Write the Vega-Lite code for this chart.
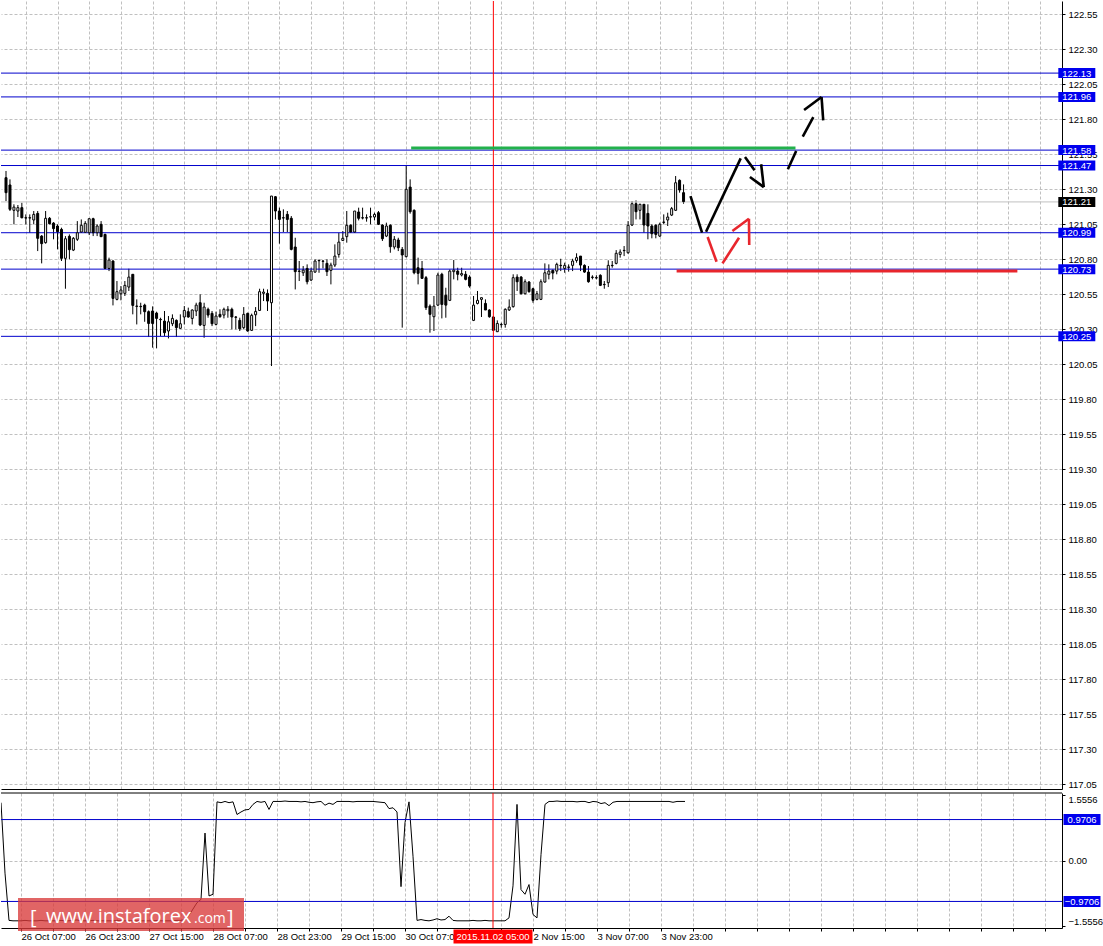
{
  "$schema": "https://vega.github.io/schema/vega-lite/v6.json",
  "padding": 0,
  "background": "white",
  "spacing": 2,
  "config": {
    "view": {"stroke": null},
    "axis": {"labelFont": "Liberation Sans", "labelFontSize": 9.5, "labelColor": "#000000", "domainColor": "#000000", "domainWidth": 1, "tickColor": "#000000", "gridColor": "#c0c0c0", "gridDash": [3, 2], "gridWidth": 1, "labelOverlap": false, "labelFlush": false, "title": null},
    "text": {"font": "Liberation Sans"}
  },
  "datasets": {
    "candles": [
      {"i":0,"o":121.383,"h":121.431,"l":121.216,"c":121.276},
      {"i":1,"o":121.331,"h":121.371,"l":121.145,"c":121.157},
      {"i":2,"o":121.150,"h":121.193,"l":121.050,"c":121.173},
      {"i":3,"o":121.145,"h":121.188,"l":121.102,"c":121.169},
      {"i":4,"o":121.169,"h":121.204,"l":121.093,"c":121.097},
      {"i":5,"o":121.097,"h":121.121,"l":121.050,"c":121.095},
      {"i":6,"o":121.097,"h":121.121,"l":120.990,"c":121.095},
      {"i":7,"o":121.081,"h":121.145,"l":121.050,"c":121.121},
      {"i":8,"o":121.128,"h":121.145,"l":120.859,"c":120.950},
      {"i":9,"o":120.966,"h":120.973,"l":120.771,"c":120.912},
      {"i":10,"o":120.919,"h":121.145,"l":120.912,"c":121.093},
      {"i":11,"o":121.093,"h":121.102,"l":121.050,"c":121.054},
      {"i":12,"o":121.059,"h":121.066,"l":120.943,"c":121.019},
      {"i":13,"o":121.038,"h":121.050,"l":120.871,"c":120.997},
      {"i":14,"o":121.014,"h":121.026,"l":120.788,"c":120.807},
      {"i":15,"o":120.807,"h":120.966,"l":120.590,"c":120.947},
      {"i":16,"o":120.964,"h":120.978,"l":120.800,"c":120.869},
      {"i":17,"o":120.866,"h":120.959,"l":120.859,"c":120.950},
      {"i":18,"o":120.943,"h":121.073,"l":120.931,"c":120.990},
      {"i":19,"o":120.995,"h":121.085,"l":120.990,"c":121.043},
      {"i":20,"o":120.993,"h":121.073,"l":120.990,"c":121.057},
      {"i":21,"o":120.990,"h":121.093,"l":120.973,"c":121.090},
      {"i":22,"o":121.090,"h":121.097,"l":120.966,"c":120.990},
      {"i":23,"o":120.990,"h":121.050,"l":120.966,"c":121.038},
      {"i":24,"o":121.050,"h":121.073,"l":120.959,"c":120.962},
      {"i":25,"o":120.978,"h":120.983,"l":120.733,"c":120.735},
      {"i":26,"o":120.735,"h":120.812,"l":120.716,"c":120.795},
      {"i":27,"o":120.788,"h":120.793,"l":120.471,"c":120.521},
      {"i":28,"o":120.514,"h":120.645,"l":120.507,"c":120.569},
      {"i":29,"o":120.554,"h":120.609,"l":120.507,"c":120.581},
      {"i":30,"o":120.557,"h":120.645,"l":120.538,"c":120.614},
      {"i":31,"o":120.602,"h":120.733,"l":120.574,"c":120.673},
      {"i":32,"o":120.693,"h":120.693,"l":120.407,"c":120.471},
      {"i":33,"o":120.466,"h":120.514,"l":120.335,"c":120.464},
      {"i":34,"o":120.464,"h":120.490,"l":120.407,"c":120.462},
      {"i":35,"o":120.473,"h":120.483,"l":120.354,"c":120.426},
      {"i":36,"o":120.426,"h":120.435,"l":120.245,"c":120.342},
      {"i":37,"o":120.431,"h":120.464,"l":120.169,"c":120.342},
      {"i":38,"o":120.416,"h":120.426,"l":120.164,"c":120.378},
      {"i":39,"o":120.371,"h":120.383,"l":120.252,"c":120.369},
      {"i":40,"o":120.359,"h":120.431,"l":120.252,"c":120.276},
      {"i":41,"o":120.288,"h":120.395,"l":120.235,"c":120.354},
      {"i":42,"o":120.340,"h":120.407,"l":120.323,"c":120.378},
      {"i":43,"o":120.364,"h":120.371,"l":120.245,"c":120.312},
      {"i":44,"o":120.307,"h":120.407,"l":120.305,"c":120.340},
      {"i":45,"o":120.388,"h":120.466,"l":120.335,"c":120.435},
      {"i":46,"o":120.426,"h":120.455,"l":120.383,"c":120.388},
      {"i":47,"o":120.378,"h":120.443,"l":120.335,"c":120.438},
      {"i":48,"o":120.431,"h":120.490,"l":120.395,"c":120.473},
      {"i":49,"o":120.490,"h":120.550,"l":120.323,"c":120.331},
      {"i":50,"o":120.328,"h":120.490,"l":120.240,"c":120.459},
      {"i":51,"o":120.443,"h":120.455,"l":120.383,"c":120.402},
      {"i":52,"o":120.414,"h":120.431,"l":120.323,"c":120.340},
      {"i":53,"o":120.335,"h":120.426,"l":120.328,"c":120.395},
      {"i":54,"o":120.407,"h":120.443,"l":120.383,"c":120.390},
      {"i":55,"o":120.402,"h":120.455,"l":120.378,"c":120.443},
      {"i":56,"o":120.433,"h":120.466,"l":120.383,"c":120.443},
      {"i":57,"o":120.443,"h":120.455,"l":120.300,"c":120.388},
      {"i":58,"o":120.388,"h":120.395,"l":120.300,"c":120.386},
      {"i":59,"o":120.364,"h":120.383,"l":120.288,"c":120.304},
      {"i":60,"o":120.312,"h":120.459,"l":120.300,"c":120.407},
      {"i":61,"o":120.414,"h":120.419,"l":120.283,"c":120.288},
      {"i":62,"o":120.293,"h":120.412,"l":120.288,"c":120.400},
      {"i":63,"o":120.404,"h":120.459,"l":120.323,"c":120.428},
      {"i":64,"o":120.435,"h":120.590,"l":120.431,"c":120.569},
      {"i":65,"o":120.557,"h":120.590,"l":120.502,"c":120.566},
      {"i":66,"o":120.557,"h":120.585,"l":120.431,"c":120.502},
      {"i":67,"o":120.490,"h":121.252,"l":120.038,"c":121.252},
      {"i":68,"o":121.247,"h":121.252,"l":121.085,"c":121.145},
      {"i":69,"o":121.145,"h":121.169,"l":120.912,"c":121.085},
      {"i":70,"o":121.097,"h":121.157,"l":120.995,"c":121.095},
      {"i":71,"o":121.121,"h":121.145,"l":120.995,"c":121.085},
      {"i":72,"o":121.093,"h":121.109,"l":120.864,"c":120.871},
      {"i":73,"o":120.888,"h":120.954,"l":120.585,"c":120.712},
      {"i":74,"o":120.716,"h":120.788,"l":120.645,"c":120.714},
      {"i":75,"o":120.704,"h":120.752,"l":120.681,"c":120.723},
      {"i":76,"o":120.735,"h":120.764,"l":120.621,"c":120.640},
      {"i":77,"o":120.652,"h":120.740,"l":120.645,"c":120.716},
      {"i":78,"o":120.709,"h":120.800,"l":120.704,"c":120.788},
      {"i":79,"o":120.793,"h":120.797,"l":120.704,"c":120.790},
      {"i":80,"o":120.788,"h":120.793,"l":120.735,"c":120.786},
      {"i":81,"o":120.771,"h":120.800,"l":120.681,"c":120.712},
      {"i":82,"o":120.721,"h":120.776,"l":120.621,"c":120.759},
      {"i":83,"o":120.759,"h":120.907,"l":120.745,"c":120.823},
      {"i":84,"o":120.835,"h":120.990,"l":120.812,"c":120.923},
      {"i":85,"o":120.935,"h":121.002,"l":120.931,"c":120.950},
      {"i":86,"o":120.962,"h":121.145,"l":120.919,"c":121.043},
      {"i":87,"o":121.043,"h":121.050,"l":120.990,"c":120.995},
      {"i":88,"o":120.995,"h":121.145,"l":120.990,"c":121.145},
      {"i":89,"o":121.138,"h":121.169,"l":121.078,"c":121.093},
      {"i":90,"o":121.097,"h":121.169,"l":121.085,"c":121.095},
      {"i":91,"o":121.097,"h":121.121,"l":121.069,"c":121.095},
      {"i":92,"o":121.104,"h":121.169,"l":121.050,"c":121.102},
      {"i":93,"o":121.102,"h":121.133,"l":121.078,"c":121.121},
      {"i":94,"o":121.133,"h":121.145,"l":121.045,"c":121.050},
      {"i":95,"o":121.045,"h":121.050,"l":120.931,"c":120.947},
      {"i":96,"o":120.966,"h":121.062,"l":120.959,"c":121.038},
      {"i":97,"o":121.043,"h":121.050,"l":120.847,"c":120.890},
      {"i":98,"o":120.888,"h":120.966,"l":120.871,"c":120.943},
      {"i":99,"o":120.938,"h":120.954,"l":120.859,"c":120.883},
      {"i":100,"o":120.871,"h":120.888,"l":120.312,"c":120.831},
      {"i":101,"o":120.819,"h":121.473,"l":120.814,"c":121.300},
      {"i":102,"o":121.316,"h":121.371,"l":121.126,"c":121.140},
      {"i":103,"o":121.150,"h":121.157,"l":120.693,"c":120.704},
      {"i":104,"o":120.740,"h":120.812,"l":120.621,"c":120.700},
      {"i":105,"o":120.735,"h":120.788,"l":120.662,"c":120.664},
      {"i":106,"o":120.669,"h":120.681,"l":120.438,"c":120.455},
      {"i":107,"o":120.466,"h":120.478,"l":120.276,"c":120.407},
      {"i":108,"o":120.390,"h":120.538,"l":120.288,"c":120.466},
      {"i":109,"o":120.473,"h":120.704,"l":120.466,"c":120.688},
      {"i":110,"o":120.693,"h":120.704,"l":120.378,"c":120.478},
      {"i":111,"o":120.543,"h":120.597,"l":120.383,"c":120.473},
      {"i":112,"o":120.507,"h":120.728,"l":120.502,"c":120.716},
      {"i":113,"o":120.712,"h":120.795,"l":120.657,"c":120.723},
      {"i":114,"o":120.716,"h":120.740,"l":120.650,"c":120.693},
      {"i":115,"o":120.688,"h":120.740,"l":120.678,"c":120.698},
      {"i":116,"o":120.693,"h":120.716,"l":120.650,"c":120.657},
      {"i":117,"o":120.673,"h":120.686,"l":120.597,"c":120.609},
      {"i":118,"o":120.364,"h":120.538,"l":120.359,"c":120.473},
      {"i":119,"o":120.485,"h":120.574,"l":120.478,"c":120.507},
      {"i":120,"o":120.514,"h":120.526,"l":120.388,"c":120.526},
      {"i":121,"o":120.485,"h":120.514,"l":120.438,"c":120.438},
      {"i":122,"o":120.438,"h":120.443,"l":120.383,"c":120.390},
      {"i":123,"o":120.388,"h":120.395,"l":120.288,"c":120.293},
      {"i":124,"o":120.283,"h":120.364,"l":120.281,"c":120.342},
      {"i":125,"o":120.335,"h":120.347,"l":120.312,"c":120.333},
      {"i":126,"o":120.335,"h":120.450,"l":120.312,"c":120.443},
      {"i":127,"o":120.438,"h":120.514,"l":120.431,"c":120.459},
      {"i":128,"o":120.462,"h":120.693,"l":120.455,"c":120.669},
      {"i":129,"o":120.673,"h":120.693,"l":120.574,"c":120.640},
      {"i":130,"o":120.673,"h":120.681,"l":120.550,"c":120.554},
      {"i":131,"o":120.554,"h":120.657,"l":120.550,"c":120.640},
      {"i":132,"o":120.638,"h":120.645,"l":120.562,"c":120.569},
      {"i":133,"o":120.590,"h":120.597,"l":120.490,"c":120.507},
      {"i":134,"o":120.514,"h":120.574,"l":120.507,"c":120.554},
      {"i":135,"o":120.514,"h":120.657,"l":120.509,"c":120.640},
      {"i":136,"o":120.638,"h":120.771,"l":120.633,"c":120.704},
      {"i":137,"o":120.693,"h":120.764,"l":120.657,"c":120.716},
      {"i":138,"o":120.721,"h":120.728,"l":120.657,"c":120.702},
      {"i":139,"o":120.716,"h":120.776,"l":120.693,"c":120.764},
      {"i":140,"o":120.757,"h":120.804,"l":120.716,"c":120.755},
      {"i":141,"o":120.735,"h":120.776,"l":120.704,"c":120.757},
      {"i":142,"o":120.745,"h":120.764,"l":120.712,"c":120.743},
      {"i":143,"o":120.757,"h":120.804,"l":120.716,"c":120.788},
      {"i":144,"o":120.792,"h":120.843,"l":120.776,"c":120.812},
      {"i":145,"o":120.823,"h":120.823,"l":120.716,"c":120.759},
      {"i":146,"o":120.757,"h":120.764,"l":120.704,"c":120.709},
      {"i":147,"o":120.709,"h":120.752,"l":120.633,"c":120.640},
      {"i":148,"o":120.673,"h":120.686,"l":120.657,"c":120.671},
      {"i":149,"o":120.669,"h":120.686,"l":120.657,"c":120.667},
      {"i":150,"o":120.686,"h":120.693,"l":120.609,"c":120.614},
      {"i":151,"o":120.621,"h":120.645,"l":120.590,"c":120.619},
      {"i":152,"o":120.633,"h":120.793,"l":120.602,"c":120.757},
      {"i":153,"o":120.757,"h":120.788,"l":120.740,"c":120.755},
      {"i":154,"o":120.771,"h":120.866,"l":120.764,"c":120.843},
      {"i":155,"o":120.835,"h":120.871,"l":120.812,"c":120.852},
      {"i":156,"o":120.864,"h":120.895,"l":120.823,"c":120.862},
      {"i":157,"o":120.847,"h":121.073,"l":120.840,"c":121.043},
      {"i":158,"o":121.045,"h":121.216,"l":121.038,"c":121.197},
      {"i":159,"o":121.197,"h":121.221,"l":121.085,"c":121.140},
      {"i":160,"o":121.150,"h":121.197,"l":121.085,"c":121.193},
      {"i":161,"o":121.193,"h":121.193,"l":120.990,"c":121.045},
      {"i":162,"o":121.128,"h":121.193,"l":120.943,"c":121.038},
      {"i":163,"o":121.038,"h":121.050,"l":120.950,"c":120.983},
      {"i":164,"o":121.043,"h":121.050,"l":120.950,"c":120.978},
      {"i":165,"o":120.966,"h":121.062,"l":120.959,"c":121.050},
      {"i":166,"o":121.066,"h":121.121,"l":121.050,"c":121.064},
      {"i":167,"o":121.081,"h":121.133,"l":121.038,"c":121.102},
      {"i":168,"o":121.116,"h":121.174,"l":121.109,"c":121.162},
      {"i":169,"o":121.150,"h":121.395,"l":121.145,"c":121.347},
      {"i":170,"o":121.364,"h":121.371,"l":121.276,"c":121.295},
      {"i":171,"o":121.276,"h":121.335,"l":121.197,"c":121.212}
    ],
    "osc": [
      {"i":0,"v":1.37},{"i":1,"v":-0.30},{"i":2,"v":-1.42},{"i":3,"v":-1.43},{"i":4,"v":-1.43},{"i":5,"v":-1.43},{"i":6,"v":-1.42},{"i":7,"v":-1.43},{"i":8,"v":-1.43},{"i":9,"v":-1.43},
      {"i":10,"v":-1.42},{"i":11,"v":-1.43},{"i":12,"v":-1.43},{"i":13,"v":-1.43},{"i":14,"v":-1.43},{"i":15,"v":-1.42},{"i":16,"v":-1.43},{"i":17,"v":-1.43},{"i":18,"v":-1.42},{"i":19,"v":-1.41},
      {"i":20,"v":-1.43},{"i":21,"v":-1.43},{"i":22,"v":-1.43},{"i":23,"v":-1.42},{"i":24,"v":-1.43},{"i":25,"v":-1.43},{"i":26,"v":-1.43},{"i":27,"v":-1.43},{"i":28,"v":-1.43},{"i":29,"v":-1.42},
      {"i":30,"v":-1.43},{"i":31,"v":-1.43},{"i":32,"v":-1.43},{"i":33,"v":-1.43},{"i":34,"v":-1.43},{"i":35,"v":-1.43},{"i":36,"v":-1.43},{"i":37,"v":-1.43},{"i":38,"v":-1.43},{"i":39,"v":-1.42},
      {"i":40,"v":-1.43},{"i":41,"v":-1.43},{"i":42,"v":-1.43},{"i":43,"v":-1.43},{"i":44,"v":-1.42},{"i":45,"v":-1.42},{"i":46,"v":-1.40},{"i":47,"v":-1.30},{"i":48,"v":-1.15},{"i":49,"v":-1.00},
      {"i":50,"v":-0.92},{"i":51,"v":0.65},{"i":52,"v":-0.84},{"i":53,"v":-0.80},{"i":54,"v":1.39},{"i":55,"v":1.37},{"i":56,"v":1.40},{"i":57,"v":1.37},{"i":58,"v":1.39},{"i":59,"v":1.09},
      {"i":60,"v":1.15},{"i":61,"v":1.20},{"i":62,"v":1.21},{"i":63,"v":1.33},{"i":64,"v":1.40},{"i":65,"v":1.38},{"i":66,"v":1.40},{"i":67,"v":1.21},{"i":68,"v":1.40},{"i":69,"v":1.40},
      {"i":70,"v":1.40},{"i":71,"v":1.41},{"i":72,"v":1.40},{"i":73,"v":1.40},{"i":74,"v":1.40},{"i":75,"v":1.39},{"i":76,"v":1.40},{"i":77,"v":1.38},{"i":78,"v":1.37},{"i":79,"v":1.39},
      {"i":80,"v":1.40},{"i":81,"v":1.31},{"i":82,"v":1.36},{"i":83,"v":1.33},{"i":84,"v":1.40},{"i":85,"v":1.40},{"i":86,"v":1.40},{"i":87,"v":1.40},{"i":88,"v":1.39},{"i":89,"v":1.40},
      {"i":90,"v":1.40},{"i":91,"v":1.40},{"i":92,"v":1.40},{"i":93,"v":1.40},{"i":94,"v":1.39},{"i":95,"v":1.38},{"i":96,"v":1.37},{"i":97,"v":1.23},{"i":98,"v":1.25},{"i":99,"v":1.15},
      {"i":100,"v":-0.62},{"i":101,"v":0.90},{"i":102,"v":1.39},{"i":103,"v":0.10},{"i":104,"v":-1.42},{"i":105,"v":-1.40},{"i":106,"v":-1.42},{"i":107,"v":-1.43},{"i":108,"v":-1.41},{"i":109,"v":-1.38},
      {"i":110,"v":-1.41},{"i":111,"v":-1.40},{"i":112,"v":-1.32},{"i":113,"v":-1.42},{"i":114,"v":-1.43},{"i":115,"v":-1.43},{"i":116,"v":-1.43},{"i":117,"v":-1.43},{"i":118,"v":-1.42},{"i":119,"v":-1.43},
      {"i":120,"v":-1.43},{"i":121,"v":-1.42},{"i":122,"v":-1.43},{"i":123,"v":-1.43},{"i":124,"v":-1.43},{"i":125,"v":-1.43},{"i":126,"v":-1.43},{"i":127,"v":-1.36},{"i":128,"v":-0.60},{"i":129,"v":1.33},
      {"i":130,"v":-0.69},{"i":131,"v":-0.80},{"i":132,"v":-0.57},{"i":133,"v":-1.28},{"i":134,"v":-1.36},{"i":135,"v":0.14},{"i":136,"v":1.33},{"i":137,"v":1.40},{"i":138,"v":1.40},{"i":139,"v":1.41},
      {"i":140,"v":1.40},{"i":141,"v":1.40},{"i":142,"v":1.40},{"i":143,"v":1.40},{"i":144,"v":1.39},{"i":145,"v":1.40},{"i":146,"v":1.40},{"i":147,"v":1.37},{"i":148,"v":1.40},{"i":149,"v":1.39},
      {"i":150,"v":1.35},{"i":151,"v":1.37},{"i":152,"v":1.30},{"i":153,"v":1.38},{"i":154,"v":1.40},{"i":155,"v":1.40},{"i":156,"v":1.40},{"i":157,"v":1.40},{"i":158,"v":1.40},{"i":159,"v":1.40},
      {"i":160,"v":1.40},{"i":161,"v":1.40},{"i":162,"v":1.40},{"i":163,"v":1.40},{"i":164,"v":1.40},{"i":165,"v":1.40},{"i":166,"v":1.40},{"i":167,"v":1.40},{"i":168,"v":1.38},{"i":169,"v":1.40},
      {"i":170,"v":1.40},{"i":171,"v":1.40}
    ],
    "levels": [{"p":122.13},{"p":121.96},{"p":121.58},{"p":121.47},{"p":120.99},{"p":120.73},{"p":120.25}],
    "bid": [{"p":121.21}],
    "osclevels": [{"v":0.9706},{"v":-0.9706}],
    "cursor": [{"i":123,"t":"2015.11.02 05:00"}],
    "green": [{"i":102.25,"p":121.595},{"i":199.25,"p":121.595}],
    "redlevel": [{"i":169.25,"p":120.716},{"i":255.25,"p":120.716}],
    "blackpath": [
      {"seg":"A","i":172.75,"p":121.252},{"seg":"A","i":175.67,"p":120.990},
      {"seg":"B","i":176.67,"p":120.997},{"seg":"B","i":185.42,"p":121.521},
      {"seg":"C","i":186.5,"p":121.531},{"seg":"C","i":188.92,"p":121.436},
      {"seg":"H1a","i":187.75,"p":121.388},{"seg":"H1a","i":191.25,"p":121.316},
      {"seg":"H1b","i":190.58,"p":121.479},{"seg":"H1b","i":191.25,"p":121.316},
      {"seg":"D1","i":197.33,"p":121.443},{"seg":"D1","i":199.42,"p":121.574},
      {"seg":"D2","i":201.08,"p":121.676},{"seg":"D2","i":203.75,"p":121.816},
      {"seg":"H2a","i":201.42,"p":121.866},{"seg":"H2a","i":205.83,"p":121.959},
      {"seg":"H2b","i":205.83,"p":121.959},{"seg":"H2b","i":206.25,"p":121.793}
    ],
    "redpath": [
      {"seg":"R1","i":177.08,"p":120.959},{"seg":"R1","i":179.33,"p":120.783},
      {"seg":"R2","i":180.83,"p":120.771},{"seg":"R2","i":185.0,"p":120.954},
      {"seg":"R3","i":183.33,"p":121.002},{"seg":"R3","i":187.5,"p":121.090},
      {"seg":"R4","i":187.5,"p":121.090},{"seg":"R4","i":187.58,"p":120.902}
    ]
  },
  "vconcat": [
    {
      "width": 1061,
      "height": 788,
      "layer": [
        {
          "data": {"name": "candles"},
          "mark": {"type": "rule", "color": "#000000", "strokeWidth": 1, "clip": true},
          "encoding": {
            "x": {"field": "i", "type": "quantitative", "title": null,
              "scale": {"domain": [0, 265.25], "nice": false, "zero": false},
              "axis": {"orient": "bottom", "tickCount": 200, "values": [5,13,21,29,37,45,53,61,69,77,85,93,101,109,117,125,133,141,149,157,165,173,181,189,197,205,213,221,229,237,245,253,261], "labels": false, "ticks": false, "domain": true, "grid": true}},
            "y": {"field": "l", "type": "quantitative", "title": null,
              "scale": {"domain": [117.017, 122.645], "nice": false, "zero": false},
              "axis": {"orient": "right", "tickCount": 200, "values": [117.05,117.3,117.55,117.8,118.05,118.3,118.55,118.8,119.05,119.3,119.55,119.8,120.05,120.3,120.55,120.8,121.05,121.3,121.55,121.8,122.05,122.3,122.55], "format": ".2f", "tickSize": 3, "labelPadding": 3, "grid": true, "domain": true}},
            "y2": {"field": "h"}
          }
        },
        {
          "data": {"name": "levels"},
          "mark": {"type": "rule", "color": "#0000cc", "strokeWidth": 1},
          "encoding": {"y": {"field": "p", "type": "quantitative", "title": null}}
        },
        {
          "data": {"name": "bid"},
          "mark": {"type": "rule", "color": "#c0c0c0", "strokeWidth": 1},
          "encoding": {"y": {"field": "p", "type": "quantitative", "title": null}}
        },
        {
          "data": {"name": "candles"},
          "mark": {"type": "bar", "width": 2, "stroke": "#000000", "strokeWidth": 1, "clip": true},
          "encoding": {
            "x": {"field": "i", "type": "quantitative", "title": null},
            "y": {"field": "o", "type": "quantitative", "title": null},
            "y2": {"field": "c"},
            "fill": {"condition": {"test": "datum.c >= datum.o", "value": "#ffffff"}, "value": "#000000"}
          }
        },
        {
          "data": {"name": "cursor"},
          "mark": {"type": "rule", "color": "#ff0000", "strokeWidth": 1},
          "encoding": {"x": {"field": "i", "type": "quantitative", "title": null}}
        },
        {
          "data": {"name": "green"},
          "mark": {"type": "line", "color": "#22b14c", "strokeWidth": 3},
          "encoding": {
            "x": {"field": "i", "type": "quantitative", "title": null},
            "y": {"field": "p", "type": "quantitative", "title": null}
          }
        },
        {
          "data": {"name": "redlevel"},
          "mark": {"type": "line", "color": "#e8262d", "strokeWidth": 3},
          "encoding": {
            "x": {"field": "i", "type": "quantitative", "title": null},
            "y": {"field": "p", "type": "quantitative", "title": null}
          }
        },
        {
          "data": {"name": "blackpath"},
          "mark": {"type": "line", "color": "#000000", "strokeWidth": 2.6, "strokeCap": "butt"},
          "encoding": {
            "x": {"field": "i", "type": "quantitative", "title": null},
            "y": {"field": "p", "type": "quantitative", "title": null},
            "detail": {"field": "seg", "type": "nominal"}
          }
        },
        {
          "data": {"name": "redpath"},
          "mark": {"type": "line", "color": "#e8262d", "strokeWidth": 2.6, "strokeCap": "butt"},
          "encoding": {
            "x": {"field": "i", "type": "quantitative", "title": null},
            "y": {"field": "p", "type": "quantitative", "title": null},
            "detail": {"field": "seg", "type": "nominal"}
          }
        },
        {
          "data": {"name": "levels"},
          "mark": {"type": "tick", "orient": "horizontal", "size": 37, "thickness": 10, "color": "#0000ee", "opacity": 1},
          "encoding": {
            "x": {"datum": 270.25, "type": "quantitative"},
            "y": {"field": "p", "type": "quantitative", "title": null}
          }
        },
        {
          "data": {"name": "levels"},
          "mark": {"type": "text", "color": "#ffffff", "fontSize": 9.5, "align": "center", "baseline": "middle", "dy": 0.5},
          "encoding": {
            "x": {"datum": 270.25, "type": "quantitative"},
            "y": {"field": "p", "type": "quantitative", "title": null},
            "text": {"field": "p", "type": "quantitative", "format": ".2f"}
          }
        },
        {
          "data": {"name": "bid"},
          "mark": {"type": "tick", "orient": "horizontal", "size": 37, "thickness": 10, "color": "#000000", "opacity": 1},
          "encoding": {
            "x": {"datum": 270.25, "type": "quantitative"},
            "y": {"field": "p", "type": "quantitative", "title": null}
          }
        },
        {
          "data": {"name": "bid"},
          "mark": {"type": "text", "color": "#ffffff", "fontSize": 9.5, "align": "center", "baseline": "middle", "dy": 0.5},
          "encoding": {
            "x": {"datum": 270.25, "type": "quantitative"},
            "y": {"field": "p", "type": "quantitative", "title": null},
            "text": {"field": "p", "type": "quantitative", "format": ".2f"}
          }
        }
      ]
    },
    {
      "width": 1061,
      "height": 135,
      "layer": [
        {
          "data": {"name": "osc"},
          "mark": {"type": "line", "color": "#000000", "strokeWidth": 1, "clip": true},
          "encoding": {
            "x": {"field": "i", "type": "quantitative", "title": null,
              "scale": {"domain": [0, 265.25], "nice": false, "zero": false},
              "axis": {"orient": "bottom", "tickCount": 200, "values": [5,13,21,29,37,45,53,61,69,77,85,93,101,109,117,125,133,141,149,157,165,173,181,189,197,205,213,221,229,237,245,253,261], "grid": true, "domain": true, "ticks": true, "tickSize": 3, "labelAlign": "left", "labelBaseline": "top", "labelPadding": 0,
                "labelExpr": "datum.value == 5 ? '26 Oct 07:00' : datum.value == 21 ? '26 Oct 23:00' : datum.value == 37 ? '27 Oct 15:00' : datum.value == 53 ? '28 Oct 07:00' : datum.value == 69 ? '28 Oct 23:00' : datum.value == 85 ? '29 Oct 15:00' : datum.value == 101 ? '30 Oct 07:00' : datum.value == 133 ? '2 Nov 15:00' : datum.value == 149 ? '3 Nov 07:00' : datum.value == 165 ? '3 Nov 23:00' : ''"}},
            "y": {"field": "v", "type": "quantitative", "title": null,
              "scale": {"domain": [-1.6, 1.6], "nice": false, "zero": false},
              "axis": {"orient": "right", "tickCount": 50, "values": [-1.5556, 0, 1.5556], "tickSize": 3, "labelPadding": 3, "labelFlush": 8, "grid": true, "domain": true,
                "gridOpacity": {"condition": {"test": "datum.value === 0", "value": 1}, "value": 0},
                "labelExpr": "datum.value === 0 ? '0.00' : format(datum.value, '.4f')"}}
          }
        },
        {
          "data": {"name": "osclevels"},
          "mark": {"type": "rule", "color": "#0000cc", "strokeWidth": 1},
          "encoding": {"y": {"field": "v", "type": "quantitative", "title": null}}
        },
        {
          "data": {"values": [{}]},
          "mark": {"type": "rule", "color": "#000000", "strokeWidth": 1},
          "encoding": {"y": {"datum": 1.6, "type": "quantitative"}}
        },
        {
          "data": {"name": "cursor"},
          "mark": {"type": "rule", "color": "#ff0000", "strokeWidth": 1},
          "encoding": {"x": {"field": "i", "type": "quantitative", "title": null}}
        },
        {
          "data": {"name": "osclevels"},
          "mark": {"type": "tick", "orient": "horizontal", "size": 37, "thickness": 11, "color": "#0000ee", "opacity": 1},
          "encoding": {
            "x": {"datum": 270.25, "type": "quantitative"},
            "y": {"field": "v", "type": "quantitative", "title": null}
          }
        },
        {
          "data": {"name": "osclevels"},
          "mark": {"type": "text", "color": "#ffffff", "fontSize": 9.5, "align": "center", "baseline": "middle", "dy": 0.5},
          "encoding": {
            "x": {"datum": 270.25, "type": "quantitative"},
            "y": {"field": "v", "type": "quantitative", "title": null},
            "text": {"field": "v", "type": "quantitative", "format": ".4f"}
          }
        },
        {
          "data": {"name": "cursor"},
          "mark": {"type": "tick", "orient": "horizontal", "size": 79, "thickness": 14, "color": "#ff0000", "opacity": 1},
          "encoding": {
            "x": {"field": "i", "type": "quantitative", "title": null},
            "y": {"datum": -1.80, "type": "quantitative"}
          }
        },
        {
          "data": {"name": "cursor"},
          "mark": {"type": "text", "color": "#ffffff", "fontSize": 9.5, "align": "center", "baseline": "middle", "dy": 0.5},
          "encoding": {
            "x": {"field": "i", "type": "quantitative", "title": null},
            "y": {"datum": -1.80, "type": "quantitative"},
            "text": {"field": "t", "type": "nominal"}
          }
        },
        {
          "data": {"values": [{}]},
          "mark": {"type": "tick", "orient": "horizontal", "size": 226, "thickness": 33, "color": "#d93a3a", "opacity": 0.78},
          "encoding": {
            "x": {"datum": 32.5, "type": "quantitative"},
            "y": {"datum": -1.28, "type": "quantitative"}
          }
        },
        {
          "data": {"values": [{"t": "["}]},
          "mark": {"type": "text", "color": "#ffffff", "font": "Open Sans", "fontSize": 20, "align": "left", "baseline": "alphabetic"},
          "encoding": {
            "x": {"datum": 7.25, "type": "quantitative"},
            "y": {"datum": -1.50, "type": "quantitative"},
            "text": {"field": "t", "type": "nominal"}
          }
        },
        {
          "data": {"values": [{"t": "www.instaforex"}]},
          "mark": {"type": "text", "color": "#ffffff", "font": "Open Sans", "fontSize": 20, "align": "left", "baseline": "alphabetic"},
          "encoding": {
            "x": {"datum": 11.25, "type": "quantitative"},
            "y": {"datum": -1.48, "type": "quantitative"},
            "text": {"field": "t", "type": "nominal"}
          }
        },
        {
          "data": {"values": [{"t": ".com"}]},
          "mark": {"type": "text", "color": "#ffffff", "font": "Open Sans", "fontSize": 14, "align": "left", "baseline": "alphabetic"},
          "encoding": {
            "x": {"datum": 48.25, "type": "quantitative"},
            "y": {"datum": -1.48, "type": "quantitative"},
            "text": {"field": "t", "type": "nominal"}
          }
        },
        {
          "data": {"values": [{"t": "]"}]},
          "mark": {"type": "text", "color": "#ffffff", "font": "Open Sans", "fontSize": 20, "align": "left", "baseline": "alphabetic"},
          "encoding": {
            "x": {"datum": 56.5, "type": "quantitative"},
            "y": {"datum": -1.50, "type": "quantitative"},
            "text": {"field": "t", "type": "nominal"}
          }
        }
      ]
    }
  ]
}
